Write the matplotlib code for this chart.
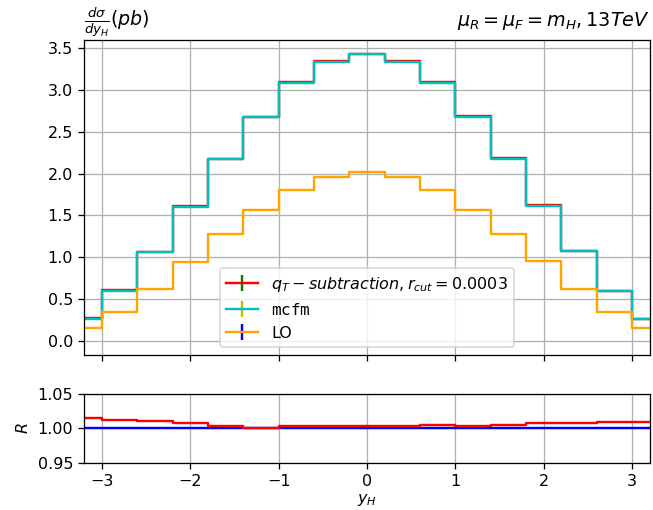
import numpy as np
import matplotlib
matplotlib.use('Agg')
import matplotlib.pyplot as plt

# rapidity bin centres
y_h = [-3.2, -2.8, -2.4, -2.0, -1.6, -1.2, -0.8, -0.4, 0.0,
       0.4, 0.8, 1.2, 1.6, 2.0, 2.4, 2.8, 3.2]

# dsigma/dy_H (pb)
qt_sub = [0.268, 0.607, 1.066, 1.613, 2.177, 2.676, 3.095, 3.350, 3.434,
          3.348, 3.100, 2.684, 2.187, 1.619, 1.075, 0.601, 0.266]
mcfm = [0.264, 0.600, 1.056, 1.600, 2.168, 2.676, 3.082, 3.340, 3.424,
        3.336, 3.085, 2.676, 2.176, 1.608, 1.068, 0.596, 0.264]
lo = [0.156, 0.344, 0.620, 0.940, 1.280, 1.568, 1.804, 1.956, 2.016,
      1.964, 1.808, 1.568, 1.276, 0.948, 0.624, 0.348, 0.156]

# ratio qT-subtraction / mcfm
ratio = [1.0154, 1.0115, 1.0100, 1.0080, 1.0038, 1.0000, 1.0034, 1.0030, 1.0033,
         1.0035, 1.0048, 1.0030, 1.0053, 1.0072, 1.0072, 1.0087, 1.0091]
ratio_ref = [1.0] * len(y_h)

err = np.full(len(y_h), 1e-4)

dpi = 115
fig = plt.figure(figsize=(653 / dpi, 510 / dpi), dpi=dpi)
ax = fig.add_axes([0.129, 0.304, 0.866, 0.618])
axr = fig.add_axes([0.129, 0.092, 0.866, 0.136])

ax.errorbar(y_h, qt_sub, yerr=err, color='r', ecolor='g', drawstyle='steps-mid',
            label=r'$q_T-subtraction, r_{cut}=0.0003$')
ax.errorbar(y_h, mcfm, yerr=err, color='c', ecolor='y', drawstyle='steps-mid',
            label=r'$\mathtt{mcfm}$')
ax.errorbar(y_h, lo, yerr=err, color='orange', ecolor='b', drawstyle='steps-mid',
            label='LO')
ax.set_xlim(-3.2, 3.2)
ax.set_ylim(-0.17, 3.6)
ax.set_xticks([-3, -2, -1, 0, 1, 2, 3])
ax.tick_params(labelbottom=False)
ax.grid(True)
ax.legend(loc='lower center')
ax.set_title(r'$\frac{d\sigma}{dy_H}(pb)$', loc='left')
ax.set_title(r'$\mu_R=\mu_F=m_H, 13TeV$', loc='right')

axr.plot(y_h, ratio_ref, color='b', drawstyle='steps-mid')
axr.plot(y_h, ratio, color='r', drawstyle='steps-mid')
axr.set_xlim(-3.2, 3.2)
axr.set_ylim(0.95, 1.05)
axr.set_xticks([-3, -2, -1, 0, 1, 2, 3])
axr.set_yticks([0.95, 1.0, 1.05])
axr.grid(True)
axr.set_ylabel(r'$R$')
axr.set_xlabel(r'$y_H$', labelpad=1.5)

fig.savefig('out.png', dpi=dpi)
